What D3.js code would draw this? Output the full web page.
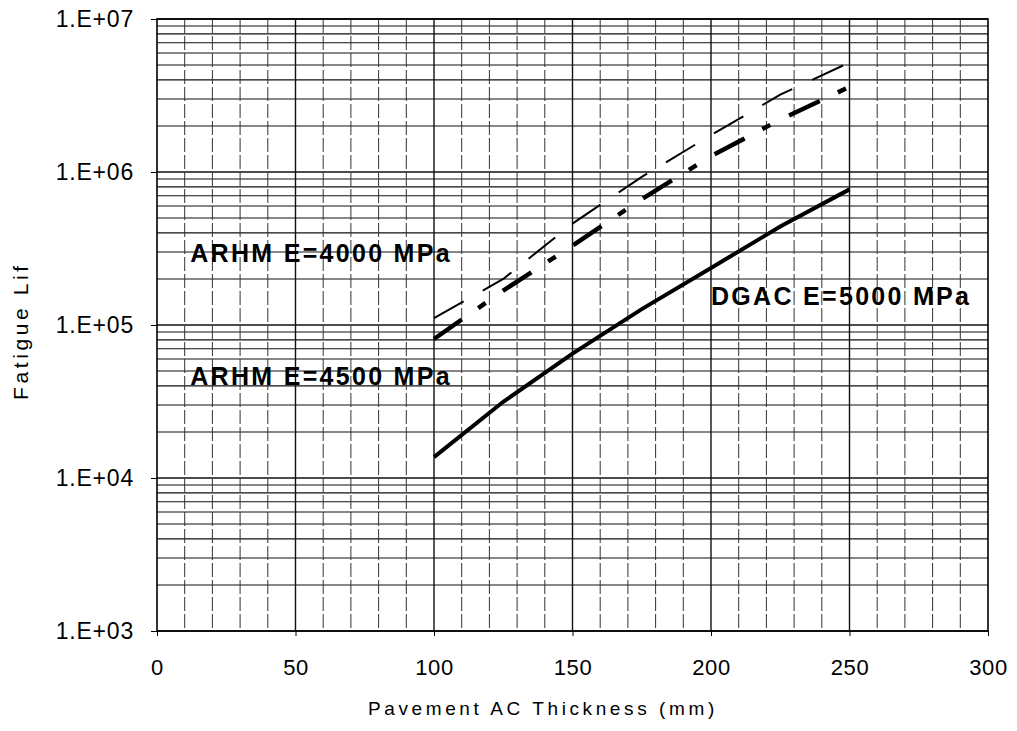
<!DOCTYPE html>
<html>
<head>
<meta charset="utf-8">
<script src="https://cdn.jsdelivr.net/npm/d3@7"></script>
<style>
  body { margin: 0; background: #fff; }
  svg { display: block; font-family: "Liberation Sans", Arial, sans-serif; }
</style>
</head>
<body>
<svg width="1017" height="731"></svg>
<script>
// values
var thickness = [100, 125, 150, 175, 200, 225, 250];
var dgac5000 = [13700, 31500, 65000, 127000, 236000, 440000, 770000];
var arhm4500 = [81000, 168000, 330000, 665000, 1270000, 2200000, 3600000];
var arhm4000 = [111000, 200000, 460000, 930000, 1740000, 3200000, 5200000];

var xTicks = [0, 50, 100, 150, 200, 250, 300];
var yTicks = [1e3, 1e4, 1e5, 1e6, 1e7];
var yTickLabels = ["1.E+03", "1.E+04", "1.E+05", "1.E+06", "1.E+07"];

var labels = [
  {text: "ARHM E=4000 MPa", x: 12, y: 257000},
  {text: "ARHM E=4500 MPa", x: 12, y: 40500},
  {text: "DGAC E=5000 MPa", x: 200, y: 135000}
];

var svg = d3.select("svg"),
    plot = {left: 157, right: 988, top: 19, bottom: 631};

var xScale = d3.scaleLinear().domain([0, 300]).range([plot.left, plot.right]),
    yScale = d3.scaleLog().domain([1e3, 1e7]).range([plot.bottom, plot.top]);

// minor log gridlines (2..9 in each decade) plus decades
var hLines = [];
yTicks.slice(0, -1).forEach(function(d) {
  for (var k = 1; k < 10; k++) hLines.push(d * k);
});
hLines.push(1e7);

var grid = svg.append("g");

grid.selectAll("line.h")
  .data(hLines)
  .enter().append("line")
    .attr("class", "h")
    .attr("x1", plot.left).attr("x2", plot.right)
    .attr("y1", function(d) { return yScale(d); })
    .attr("y2", function(d) { return yScale(d); })
    .attr("stroke", "#111")
    .attr("stroke-width", function(d) { return yTicks.indexOf(d) >= 0 ? 1.4 : 1.1; });

grid.selectAll("line.v")
  .data(d3.range(10, 300, 10))
  .enter().append("line")
    .attr("class", "v")
    .attr("y1", plot.top).attr("y2", plot.bottom)
    .attr("x1", function(d) { return xScale(d); })
    .attr("x2", function(d) { return xScale(d); })
    .attr("stroke", function(d) { return d % 50 === 0 ? "#111" : "#333"; })
    .attr("stroke-width", function(d) { return d % 50 === 0 ? 1.4 : 1; })
    .attr("stroke-dasharray", function(d) { return d % 50 === 0 ? null : "14,3"; });

// frame
svg.append("rect")
    .attr("x", plot.left).attr("y", plot.top)
    .attr("width", plot.right - plot.left)
    .attr("height", plot.bottom - plot.top)
    .attr("fill", "none")
    .attr("stroke", "#000")
    .attr("stroke-width", 1.6);

// y axis
var yAxis = svg.append("g")
    .attr("transform", "translate(" + plot.left + ",0)")
    .call(d3.axisLeft(yScale)
      .tickValues(yTicks)
      .tickSize(6)
      .tickPadding(17)
      .tickFormat(function(d, i) { return yTickLabels[i]; }));
yAxis.select(".domain").remove();
yAxis.selectAll("text")
    .attr("font-size", 23)
    .attr("letter-spacing", 0.8)
    .attr("font-family", "Liberation Sans, Arial, sans-serif")
    .attr("fill", "#000");

// x axis
var xAxis = svg.append("g")
    .attr("transform", "translate(0," + plot.bottom + ")")
    .call(d3.axisBottom(xScale)
      .tickValues(xTicks)
      .tickSize(5)
      .tickPadding(23));
xAxis.select(".domain").remove();
xAxis.selectAll("text")
    .attr("font-size", 22)
    .attr("letter-spacing", 0.6)
    .attr("font-family", "Liberation Sans, Arial, sans-serif")
    .attr("fill", "#000");

// titles
svg.append("text")
    .attr("x", 368)
    .attr("y", 715)
    .attr("font-size", 19)
    .attr("letter-spacing", 3.6)
    .text("Pavement AC Thickness (mm)");

svg.append("text")
    .attr("transform", "translate(28,400) rotate(-90)")
    .attr("font-size", 21)
    .attr("letter-spacing", 3.6)
    .text("Fatigue Lif");

// curves
var line = d3.line()
    .x(function(d) { return xScale(d[0]); })
    .y(function(d) { return yScale(d[1]); });

var series = [
  {values: arhm4000, width: 2, dash: "34,22"},
  {values: arhm4500, width: 4.5, dash: "34,20,9,21"},
  {values: dgac5000, width: 4, dash: null}
];

svg.selectAll("path.curve")
  .data(series)
  .enter().append("path")
    .attr("class", "curve")
    .attr("d", function(s) { return line(d3.zip(thickness, s.values)); })
    .attr("fill", "none")
    .attr("stroke", "#000")
    .attr("stroke-width", function(s) { return s.width; })
    .attr("stroke-dasharray", function(s) { return s.dash; });

// curve labels
svg.selectAll("text.lbl")
  .data(labels)
  .enter().append("text")
    .attr("class", "lbl")
    .attr("x", function(d) { return xScale(d.x); })
    .attr("y", function(d) { return yScale(d.y); })
    .attr("font-size", 25)
    .attr("font-weight", "bold")
    .attr("letter-spacing", 2.3)
    .text(function(d) { return d.text; });
</script>
</body>
</html>
